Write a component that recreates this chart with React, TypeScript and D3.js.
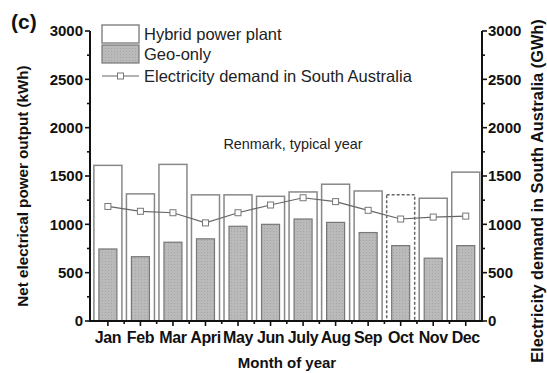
import React from "react";
import * as d3 from "d3";

const months = ["Jan", "Feb", "Mar", "Apri", "May", "Jun", "July", "Aug", "Sep", "Oct", "Nov", "Dec"];
const hybridOutput = [1610, 1315, 1620, 1305, 1305, 1290, 1335, 1415, 1345, 1305, 1270, 1540];
const geoOutput = [745, 665, 815, 850, 980, 1000, 1055, 1020, 915, 780, 650, 780];
const demandSA = [1185, 1135, 1120, 1015, 1120, 1200, 1275, 1235, 1145, 1055, 1075, 1085];
const leftTicks = [0, 500, 1000, 1500, 2000, 2500, 3000];
const rightTicks = [0, 500, 1000, 1500, 2000, 2500, 3000];
const dashedMonths = ["Oct"];

const W = 547;
const H = 373;
const X0 = 90;
const X1 = 482;
const Y0 = 321;
const Y1 = 31;

export default function App() {
  const x = d3.scaleLinear().domain([0.45, 12.5]).range([X0, X1]);
  const yL = d3.scaleLinear().domain([0, 3000]).range([Y0, Y1]);
  const yR = d3.scaleLinear().domain([0, 3000]).range([Y0, Y1]);
  const hybridW = 28;
  const geoW = 18;
  const font = "Arial, 'Liberation Sans', Helvetica, sans-serif";

  const line = d3
    .line<number>()
    .x((_, i) => x(i + 1))
    .y((d) => yR(d));

  const minorY = d3.range(0, 3001, 250).filter((v) => v % 500 !== 0);
  const minorX = d3.range(1.5, 12, 1);

  return (
    <svg width={W} height={H} style={{ position: "absolute", left: 0, top: 0, background: "#fff" }} fontFamily={font}>
      <defs>
        <pattern id="geoTex" width="3" height="3" patternUnits="userSpaceOnUse">
          <rect width="3" height="3" fill="#bababa" />
          <rect width="1" height="1" fill="#a5a5a5" />
        </pattern>
      </defs>

      {/* hybrid plant bars */}
      {months.map((m, i) => (
        <rect
          key={"h" + m}
          x={x(i + 1) - hybridW / 2}
          y={yL(hybridOutput[i])}
          width={hybridW}
          height={Y0 - yL(hybridOutput[i])}
          fill="#fff"
          stroke={dashedMonths.includes(m) ? "#666" : "#888"}
          strokeWidth={1.5}
          strokeDasharray={dashedMonths.includes(m) ? "3,2" : undefined}
        />
      ))}

      {/* geothermal-only bars */}
      {months.map((m, i) => (
        <rect
          key={"g" + m}
          x={x(i + 1) - geoW / 2}
          y={yL(geoOutput[i])}
          width={geoW}
          height={Y0 - yL(geoOutput[i])}
          fill="url(#geoTex)"
          stroke="#777"
          strokeWidth={1.2}
        />
      ))}

      {/* demand line */}
      <path d={line(demandSA) ?? ""} fill="none" stroke="#666" strokeWidth={1.2} />
      {demandSA.map((d, i) => (
        <rect
          key={"d" + i}
          x={x(i + 1) - 3}
          y={yR(d) - 3}
          width={6}
          height={6}
          fill="#fff"
          stroke="#777"
          strokeWidth={1}
        />
      ))}

      {/* axes */}
      <g stroke="#111" strokeWidth={2}>
        <line x1={X0} x2={X0} y1={Y1} y2={Y0 + 1} />
        <line x1={X1} x2={X1} y1={Y1} y2={Y0 + 1} />
        <line x1={X0} x2={X1} y1={Y0} y2={Y0} />
      </g>
      <g stroke="#111" strokeWidth={1.6}>
        {leftTicks.map((t) => (
          <line key={"lt" + t} x1={X0 - 5} x2={X0} y1={yL(t)} y2={yL(t)} />
        ))}
        {minorY.map((t) => (
          <line key={"lm" + t} x1={X0 - 3} x2={X0} y1={yL(t)} y2={yL(t)} />
        ))}
        {rightTicks.map((t) => (
          <line key={"rt" + t} x1={X1} x2={X1 + 5} y1={yR(t)} y2={yR(t)} />
        ))}
        {minorY.map((t) => (
          <line key={"rm" + t} x1={X1} x2={X1 + 3} y1={yR(t)} y2={yR(t)} />
        ))}
        {months.map((m, i) => (
          <line key={"xt" + m} x1={x(i + 1)} x2={x(i + 1)} y1={Y0} y2={Y0 + 5} />
        ))}
        {minorX.map((v) => (
          <line key={"xm" + v} x1={x(v)} x2={x(v)} y1={Y0} y2={Y0 + 3} />
        ))}
      </g>

      {/* tick labels */}
      <g fontSize={15} fontWeight="bold" fill="#111">
        {leftTicks.map((t) => (
          <text key={"ll" + t} x={X0 - 7} y={yL(t)} dy="0.36em" textAnchor="end">
            {t}
          </text>
        ))}
        {rightTicks.map((t) => (
          <text key={"rl" + t} x={X1 + 6} y={yR(t)} dy="0.36em" textAnchor="start">
            {t}
          </text>
        ))}
      </g>
      <g fontSize={16} fontWeight="bold" fill="#111">
        {months.map((m, i) => (
          <text key={"xl" + m} x={x(i + 1)} y={343} textAnchor="middle" letterSpacing="-0.4">
            {m}
          </text>
        ))}
      </g>

      {/* axis titles */}
      <text x={287} y={368} textAnchor="middle" fontSize={15} fontWeight="bold" fill="#111">
        Month of year
      </text>
      <text
        transform={`translate(28,186) rotate(-90)`}
        textAnchor="middle"
        fontSize={15.2}
        fontWeight="bold"
        fill="#111"
      >
        Net electrical power output (kWh)
      </text>
      <text
        transform={`translate(543,191) rotate(-90)`}
        textAnchor="middle"
        fontSize={16.4}
        fontWeight="bold"
        fill="#111"
      >
        Electricity demand in South Australia (GWh)
      </text>
      <text x={11} y={29} fontSize={21} fontWeight="bold" fill="#111">
        (c)
      </text>

      {/* annotation */}
      <text x={293} y={149} textAnchor="middle" fontSize={14.4} fill="#222">
        Renmark, typical year
      </text>

      {/* legend */}
      <g fontSize={16.5} fill="#222">
        <rect x={102} y={25} width={37} height={18} fill="#fff" stroke="#888" strokeWidth={1.5} />
        <text x={144} y={40}>Hybrid power plant</text>
        <rect x={102} y={45} width={37} height={18} fill="url(#geoTex)" stroke="#777" strokeWidth={1.2} />
        <text x={144} y={60}>Geo-only</text>
        <line x1={102} x2={139} y1={76} y2={76} stroke="#666" strokeWidth={1.2} />
        <rect x={117.5} y={73} width={6} height={6} fill="#fff" stroke="#777" strokeWidth={1} />
        <text x={144} y={82}>Electricity demand in South Australia</text>
      </g>
    </svg>
  );
}
